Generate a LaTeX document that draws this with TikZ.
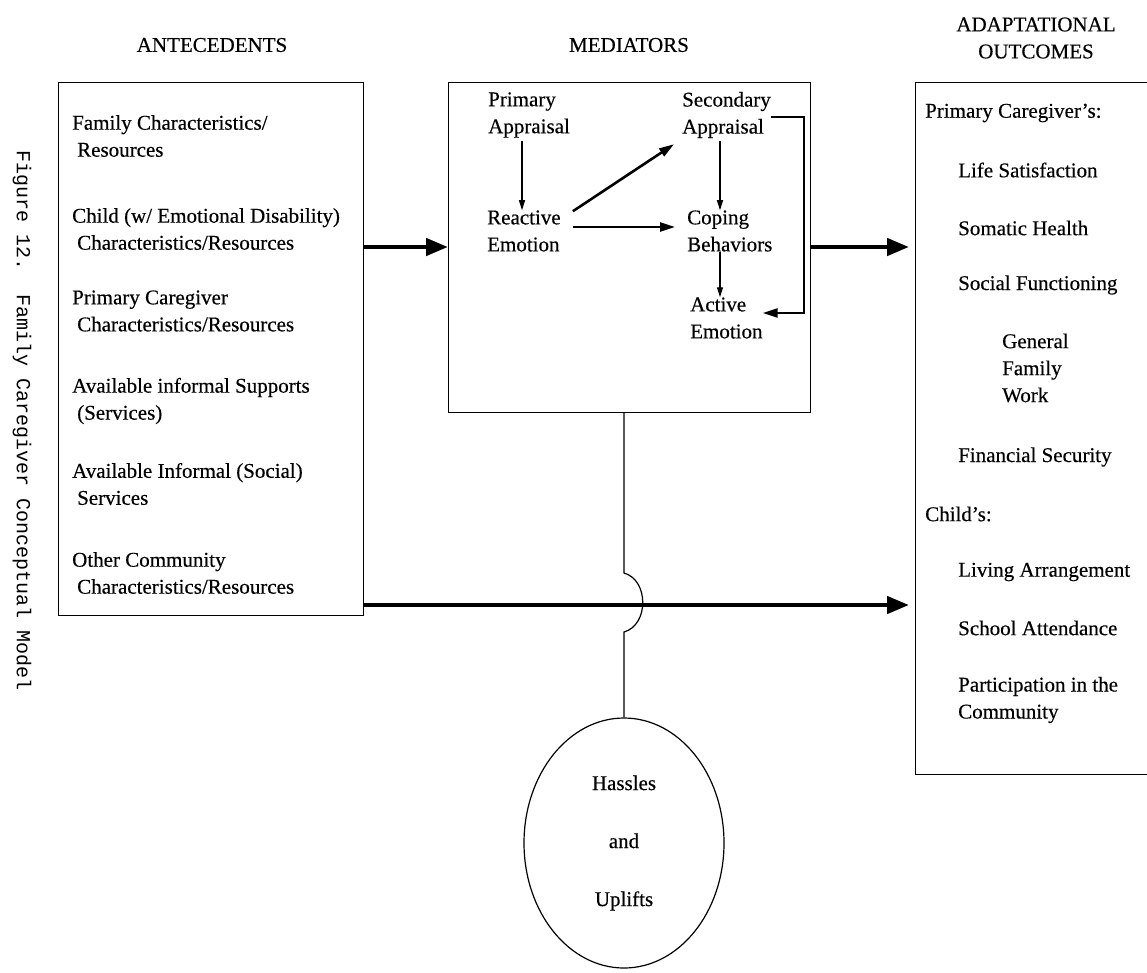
\documentclass[tikz,border=0pt]{standalone}
\usepackage{fontspec}
\setmainfont[FakeBold=0.35]{Liberation Serif}
\setmonofont{Liberation Mono}
\usetikzlibrary{arrows.meta,shapes.geometric,calc}
\begin{document}
\begin{tikzpicture}[x=1pt,y=-1pt,
  box/.style={draw, line width=1.2pt, inner sep=0pt, anchor=north west},
  txt/.style={font=\fontsize{21}{27}\selectfont, inner sep=0pt, align=left, anchor=west},
  head/.style={font=\fontsize{21}{27}\selectfont, inner sep=0pt, align=center},
  bigarrow/.style={line width=4.5pt, -{Triangle[length=22pt,width=17pt]}},
  midarrow/.style={line width=2.6pt, -{Triangle[length=15pt,width=9pt]}},
  thinarrow/.style={line width=1.2pt, -{Triangle[length=10pt,width=6pt]}},
  plainline/.style={line width=1.2pt},
]
\useasboundingbox (0,0) rectangle (1147,972);
\clip (0,0) rectangle (1147,972);

% caption
\node[rotate=-90, inner sep=0pt, font=\ttfamily\fontsize{20}{20}\selectfont] (cap) at (22,421) {Figure 12.\ \ Family Caregiver Conceptual Model};

% headings
\node[head] (hA) at (212,45) {ANTECEDENTS};
\node[head] (hM) at (629,45) {MEDIATORS};
\node[head] (hO) at (1036,38) {ADAPTATIONAL\\OUTCOMES};

% boxes
\node[box, minimum width=305pt, minimum height=533pt] (ante) at (58,82) {};
\node[box, minimum width=362pt, minimum height=330pt] (med) at (448,82) {};
\node[box, minimum width=300pt, minimum height=692pt] (outc) at (915,82) {};

% antecedents
\node[txt] (a1) at (72,136) {Family Characteristics/\\\hspace*{5pt}Resources};
\node[txt] (a2) at (72,229) {Child (w/ Emotional Disability)\\\hspace*{5pt}Characteristics/Resources};
\node[txt] (a3) at (72,311) {Primary Caregiver\\\hspace*{5pt}Characteristics/Resources};
\node[txt] (a4) at (72,401) {Available informal Supports\\\hspace*{5pt}(Services)};
\node[txt] (a5) at (72,484) {Available Informal (Social)\\\hspace*{5pt}Services};
\node[txt] (a6) at (72,573) {Other Community\\\hspace*{5pt}Characteristics/Resources};

% mediators
\node[txt] (pa) at (488,115) {Primary\\Appraisal};
\node[txt] (re) at (487,231) {Reactive\\Emotion};
\node[txt] (sa) at (682,115) {Secondary\\Appraisal};
\node[txt] (cb) at (687,231) {Coping\\Behaviors};
\node[txt] (ae) at (690,318) {Active\\Emotion};

\draw[thinarrow] (pa.south -| 522,0) ++(0,3) -- (re.north -| 522,0);
\draw[thinarrow] (sa.south -| 720,0) ++(0,3) -- (cb.north -| 720,0);
\draw[thinarrow] (cb.south -| 720,0) -- (ae.north -| 720,0);
\draw[midarrow] ($(re.north east)+(12,1)$) -- ($(sa.south west)+(-8,6)$);
\draw[midarrow] ($(re.east)+(12,-4)$) -- ($(cb.west)+(-12,-4)$);
\draw[midarrow] ($(sa.east)+(0,2)$) -- ++(33,0) |- ($(ae.east)+(0,-5)$);

% outcomes
\node[txt] (o1) at (925,113) {Primary Caregiver's:};
\node[txt] (o2) at (958,170) {Life Satisfaction};
\node[txt] (o3) at (958,228) {Somatic Health};
\node[txt] (o4) at (958,285) {Social Functioning};
\node[txt] (o5) at (1002,368) {General\\Family\\Work};
\node[txt] (o6) at (958,457) {Financial Security};
\node[txt] (o7) at (925,514) {Child's:};
\node[txt] (o8) at (958,572) {Living Arrangement};
\node[txt] (o9) at (958,628) {School Attendance};
\node[txt] (o10) at (958,700) {Participation in the\\Community};

% hassles and uplifts
\node[draw, ellipse, line width=1.2pt, inner sep=0pt, minimum width=200pt, minimum height=250pt,
      align=center, font=\fontsize{21}{58}\selectfont] (hu) at (624,843) {Hassles\\and\\Uplifts};

% big arrows
\draw[bigarrow] (ante.east |- 0,247) -- (med.west |- 0,247);
\draw[bigarrow, shorten >=6pt] (med.east |- 0,247) -- (outc.west |- 0,247);
\draw[bigarrow, shorten >=6pt] (ante.east |- 0,605) -- (outc.west |- 0,605);

% link from mediators to hassles, hopping over the long arrow
\draw[plainline] (hu.north |- med.south) -- (hu.north |- 0,573)
  .. controls +(25,7) and +(25,-7) .. (hu.north |- 0,632) -- (hu.north);
\end{tikzpicture}
\end{document}
